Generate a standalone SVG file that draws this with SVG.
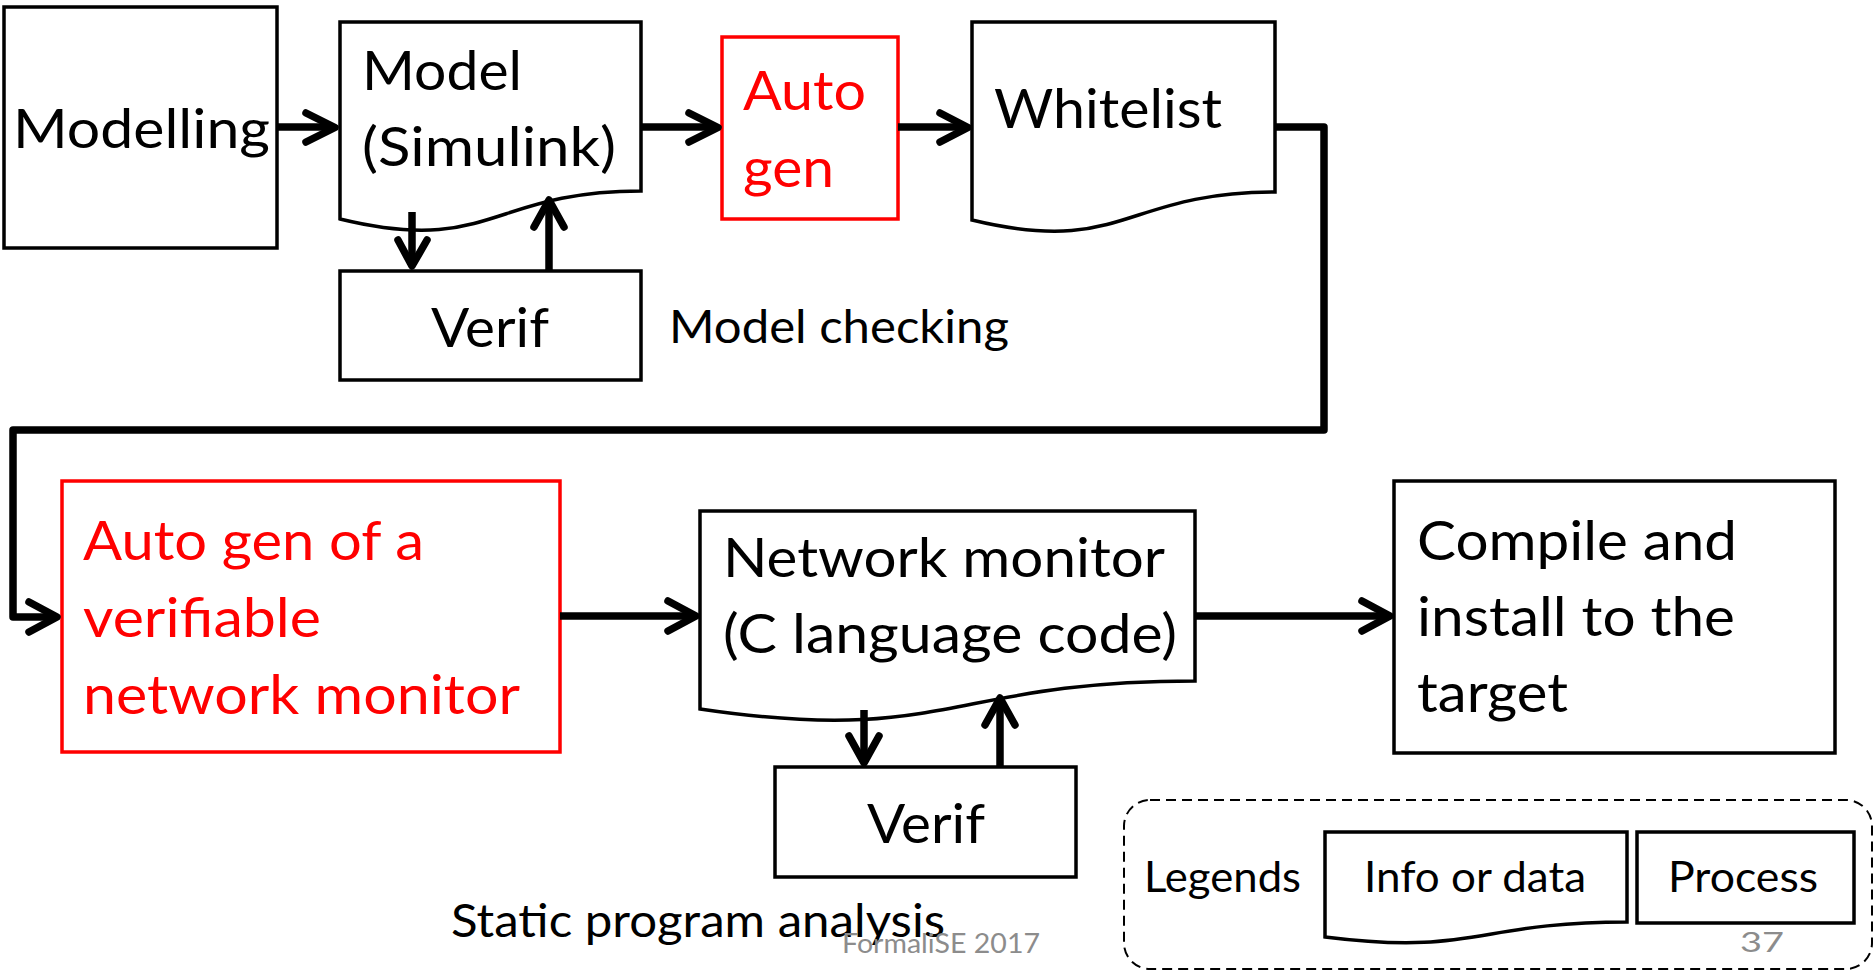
<svg xmlns="http://www.w3.org/2000/svg" width="1874" height="973" viewBox="0 0 1874 973">
<style>
.box{fill:#fff;stroke:#000;stroke-width:3.5;stroke-linejoin:miter}
.red{fill:#fff;stroke:#f00;stroke-width:3.5}
.t{font-family:Lato,"Open Sans","Liberation Sans",sans-serif;font-size:55px;fill:#000}
.tr{fill:#f00}
.s{font-size:46px}
.l{font-size:42px}
.g{font-family:Lato,"Open Sans","Liberation Sans",sans-serif;font-size:27px;fill:#8c8c8c}
.c{fill:none;stroke:#000;stroke-width:7.5;stroke-linejoin:round}
.h{fill:none;stroke:#000;stroke-width:7.5;stroke-linecap:round;stroke-linejoin:round}
</style>
<rect width="1874" height="973" fill="#fff"/>
<g id="legend">
<rect x="1124" y="800" width="748" height="169" rx="26" ry="26" fill="none" stroke="#000" stroke-width="2" stroke-dasharray="10,6"/>
<text class="t l" x="1144" y="892" textLength="157" lengthAdjust="spacingAndGlyphs">Legends</text>
<path class="box" d="M1325,832 H1627 V922 C1476,922 1476,956 1325,937 Z"/>
<text class="t l" x="1364" y="892" textLength="222" lengthAdjust="spacingAndGlyphs">Info or data</text>
<rect class="box" x="1637" y="832" width="217" height="91"/>
<text class="t l" x="1668" y="892" textLength="150" lengthAdjust="spacingAndGlyphs">Process</text>
</g>
<g id="modelling">
<rect class="box" x="4" y="7" width="273" height="241"/>
<text class="t" x="13" y="148" textLength="257" lengthAdjust="spacingAndGlyphs">Modelling</text>
</g>
<g id="model">
<path class="box" d="M340,22 H641 V191 C490.5,191 490.5,255.7 340,219 Z"/>
<text class="t" x="362" y="90" textLength="160" lengthAdjust="spacingAndGlyphs">Model</text>
<text class="t" x="362" y="166" textLength="254" lengthAdjust="spacingAndGlyphs">(Simulink)</text>
</g>
<g id="verif1">
<rect class="box" x="340" y="271" width="301" height="109"/>
<text class="t" x="431" y="347" textLength="118" lengthAdjust="spacingAndGlyphs">Verif</text>
</g>
<g id="modelchecking">
<text class="t s" x="669" y="343" textLength="340" lengthAdjust="spacingAndGlyphs">Model checking</text>
</g>
<g id="autogen">
<rect class="red" x="722" y="37" width="176" height="182"/>
<text class="t tr" x="743" y="110" textLength="123" lengthAdjust="spacingAndGlyphs">Auto</text>
<text class="t tr" x="743" y="187" textLength="91" lengthAdjust="spacingAndGlyphs">gen</text>
</g>
<g id="whitelist">
<path class="box" d="M972,22 H1275 V192 C1123.5,192 1123.5,256.8 972,220 Z"/>
<text class="t" x="994" y="128" textLength="228" lengthAdjust="spacingAndGlyphs">Whitelist</text>
</g>
<g id="autogen2">
<rect class="red" x="62" y="481" width="498" height="271"/>
<text class="t tr" x="83" y="560" textLength="341" lengthAdjust="spacingAndGlyphs">Auto gen of a</text>
<text class="t tr" x="83" y="637" textLength="238" lengthAdjust="spacingAndGlyphs">verifiable</text>
<text class="t tr" x="83" y="714" textLength="437" lengthAdjust="spacingAndGlyphs">network monitor</text>
</g>
<g id="netmon">
<path class="box" d="M700,511 H1195 V681 C947.5,681 947.5,745.8 700,709 Z"/>
<text class="t" x="723" y="577" textLength="442" lengthAdjust="spacingAndGlyphs">Network monitor</text>
<text class="t" x="723" y="653" textLength="454" lengthAdjust="spacingAndGlyphs">(C language code)</text>
</g>
<g id="verif2">
<rect class="box" x="775" y="767" width="301" height="110"/>
<text class="t" x="867" y="843" textLength="118" lengthAdjust="spacingAndGlyphs">Verif</text>
</g>
<g id="compile">
<rect class="box" x="1394" y="481" width="441" height="272"/>
<text class="t" x="1417" y="560" textLength="320" lengthAdjust="spacingAndGlyphs">Compile and</text>
<text class="t" x="1417" y="636" textLength="318" lengthAdjust="spacingAndGlyphs">install to the</text>
<text class="t" x="1417" y="712" textLength="151" lengthAdjust="spacingAndGlyphs">target</text>
</g>
<g id="static">
<text class="t s" x="451" y="937" textLength="494" lengthAdjust="spacingAndGlyphs">Static program analysis</text>
</g>
<g id="footer">
<text class="g" x="842" y="953" textLength="198" lengthAdjust="spacingAndGlyphs">FormaliSE 2017</text>
<text class="g" x="1740" y="952" textLength="44" lengthAdjust="spacingAndGlyphs">37</text>
</g>
<g id="connectors">
<path class="c" d="M277,127 H332"/>
<path class="h" d="M306,113 L335,127.5 L306,142"/>
<path class="c" d="M641,127 H715"/>
<path class="h" d="M689,113 L718,127.5 L689,142"/>
<path class="c" d="M898,127 H965"/>
<path class="h" d="M940,113 L968,127.5 L940,142"/>
<path class="c" d="M412,212 V264"/>
<path class="h" d="M398,240 L412,266 L427,240"/>
<path class="c" d="M549,271 V202"/>
<path class="h" d="M534,227 L549,200 L564,227"/>
<path class="c" d="M1275,127 H1324 V430 H13 V617 H55"/>
<path class="h" d="M29,602 L57,617 L29,632"/>
<path class="c" d="M560,616 H694"/>
<path class="h" d="M668,601 L696,616 L668,631"/>
<path class="c" d="M864,710 V760"/>
<path class="h" d="M849,736 L864,763 L879,736"/>
<path class="c" d="M1000,767 V700"/>
<path class="h" d="M985,725 L1000,698 L1015,725"/>
<path class="c" d="M1195,616 H1388"/>
<path class="h" d="M1362,601 L1390,616 L1362,631"/>
</g>
</svg>
